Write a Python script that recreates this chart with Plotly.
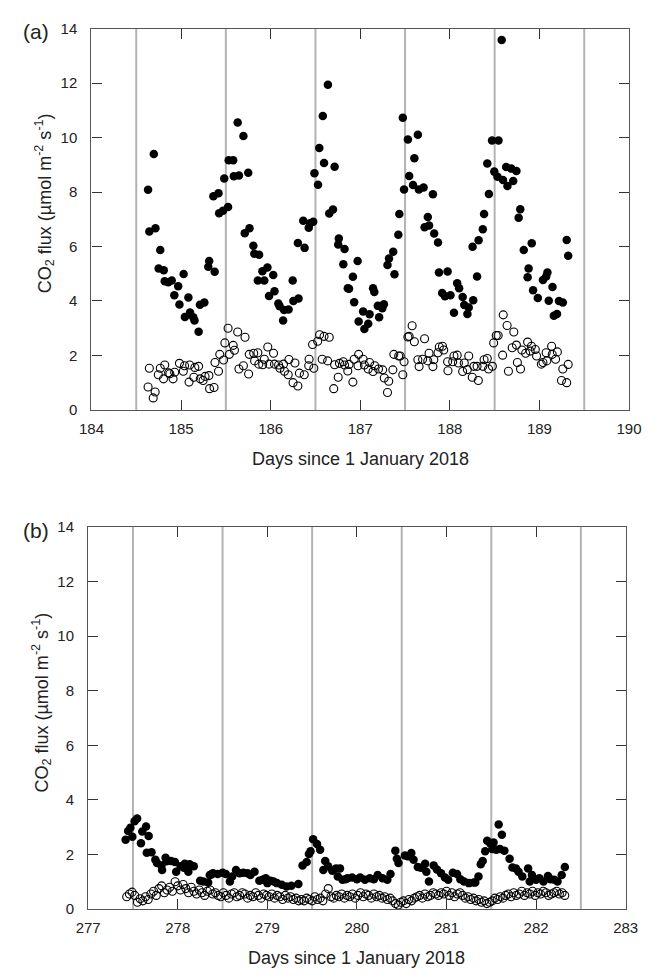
import plotly.graph_objects as go

# ---------------- Panel (a) data ----------------
a_fill_day = [184.632,184.646,184.696,184.714,184.750,184.768,184.807,184.818,184.857,184.896,184.925,184.968,184.982,
185.029,185.043,185.082,185.100,185.136,185.150,185.196,185.211,185.260,185.304,185.314,185.361,185.375,185.418,185.425,
185.468,185.482,185.525,185.532,185.582,185.589,185.632,185.646,185.696,185.711,185.750,185.764,185.807,185.818,185.857,
185.871,185.908,185.929,185.964,185.982,186.029,186.043,186.086,186.100,186.139,186.150,186.200,186.246,186.254,186.304,
186.311,186.364,186.379,186.425,186.439,186.475,186.489,186.529,186.543,186.582,186.596,186.639,186.654,186.696,186.714,
186.754,186.761,186.811,186.825,186.861,186.875,186.918,186.932,186.971,186.982,187.032,187.046,187.089,187.104,187.143,
187.157,187.196,187.211,187.246,187.264,187.304,187.321,187.368,187.382,187.425,187.436,187.475,187.489,187.532,187.546,
187.589,187.604,187.643,187.654,187.707,187.718,187.754,187.768,187.811,187.825,187.868,187.879,187.914,187.946,187.975,
188.007,188.046,188.082,188.104,188.143,188.161,188.196,188.211,188.254,188.261,188.304,188.321,188.368,188.382,188.418,
188.436,188.471,188.496,188.532,188.543,188.579,188.593,188.629,188.643,188.686,188.707,188.743,188.768,188.786,188.825,
188.868,188.879,188.914,188.929,188.982,189.039,189.075,189.089,189.104,189.146,189.161,189.196,189.218,189.261,189.304,189.321]
a_fill_val = [8.08,6.55,9.40,6.67,5.19,5.87,5.13,4.72,4.69,4.75,4.21,4.54,3.87,
4.99,3.41,4.13,3.58,3.40,3.28,2.87,3.86,3.94,5.26,5.47,7.85,5.07,7.96,7.22,
7.31,8.50,7.45,9.17,9.17,8.58,10.55,8.61,10.06,6.49,8.71,6.67,6.03,5.73,4.75,
5.70,5.09,4.75,5.23,4.18,4.95,4.36,3.91,3.81,3.28,3.67,3.69,4.75,4.00,6.13,
4.09,6.95,5.95,6.69,6.85,6.91,8.69,8.27,9.62,10.79,9.07,11.94,7.21,7.36,8.93,
6.07,6.29,5.35,5.91,4.47,4.45,4.89,3.95,5.47,3.25,3.61,2.97,3.16,3.51,4.47,
4.33,3.82,3.40,3.73,3.88,5.32,5.56,5.81,4.98,6.43,7.19,10.73,8.09,9.93,8.59,
8.26,9.24,10.10,8.09,8.17,6.71,7.08,6.77,7.92,6.48,6.15,5.05,4.29,4.17,5.08,
4.21,3.57,4.65,4.47,4.15,3.85,3.52,3.76,5.99,4.03,4.90,6.23,6.63,7.19,9.05,
7.93,9.89,8.75,8.56,9.89,13.58,8.44,8.92,8.22,8.86,8.41,8.77,7.06,7.37,5.87,
4.87,5.19,6.12,4.39,4.11,4.77,4.90,5.05,4.01,4.51,3.46,3.52,4.00,3.94,6.24,5.66]

a_open_day = [184.632,184.646,184.689,184.711,184.746,184.768,184.804,184.818,184.861,184.875,184.911,184.929,184.982,
185.025,185.039,185.089,185.096,185.143,185.154,185.196,185.214,185.246,185.268,185.311,185.318,185.368,185.379,185.418,
185.432,185.475,185.489,185.525,185.539,185.582,185.596,185.632,185.646,185.696,185.714,185.754,185.761,185.811,185.821,
185.857,185.868,185.911,185.929,185.968,185.982,186.032,186.043,186.089,186.104,186.143,186.154,186.196,186.204,186.250,
186.271,186.304,186.321,186.375,186.425,186.429,186.468,186.482,186.525,186.546,186.575,186.596,186.636,186.654,186.704,
186.714,186.754,186.768,186.811,186.825,186.861,186.875,186.918,186.932,186.975,186.982,187.032,187.046,187.089,187.104,
187.143,187.161,187.204,187.250,187.268,187.304,187.318,187.364,187.375,187.429,187.446,187.475,187.489,187.532,187.546,
187.579,187.604,187.643,187.657,187.696,187.718,187.754,187.768,187.811,187.821,187.868,187.882,187.918,187.932,187.975,
187.979,188.032,188.046,188.082,188.096,188.143,188.161,188.196,188.211,188.250,188.268,188.304,188.318,188.368,188.382,
188.418,188.432,188.475,188.489,188.518,188.539,188.589,188.596,188.639,188.654,188.696,188.714,188.743,188.754,188.789,
188.804,188.846,188.868,188.896,188.911,188.954,188.968,189.021,189.039,189.075,189.082,189.136,189.143,189.180,189.200,
189.246,189.261,189.304,189.321]
a_open_val = [0.84,1.53,0.44,0.66,1.29,1.53,1.14,1.65,1.36,1.33,1.14,1.38,1.71,
1.42,1.62,1.02,1.65,1.20,1.56,1.60,1.14,1.08,1.23,1.26,0.78,0.82,1.74,1.42,
2.04,1.83,2.46,3.00,2.04,2.37,2.19,2.86,1.50,1.62,2.67,1.32,2.04,2.08,1.80,
2.10,1.68,1.66,1.86,2.31,1.68,2.08,1.68,1.65,1.53,1.68,1.42,1.29,1.85,1.00,
1.72,0.88,1.35,1.29,1.62,1.86,2.40,1.53,2.52,2.76,1.86,2.70,1.80,2.67,0.78,
1.66,1.20,1.71,1.77,1.65,1.43,1.67,1.02,1.86,1.62,2.04,1.86,1.65,1.50,1.74,
1.41,1.62,1.50,1.47,1.17,0.64,1.05,1.47,2.04,1.98,1.98,1.29,1.77,2.68,2.70,
3.09,2.50,1.84,1.59,1.86,2.61,1.80,2.08,1.59,1.84,2.10,2.31,2.34,2.20,1.77,
1.44,1.77,1.98,2.01,1.72,1.41,1.72,1.48,1.98,1.20,1.60,1.60,1.08,1.60,1.84,
1.89,1.50,1.60,2.46,2.73,2.73,2.01,3.49,3.10,1.42,2.28,2.86,2.38,1.74,1.50,
2.20,2.08,2.49,2.16,2.34,2.22,1.98,1.68,1.74,2.10,1.80,2.34,2.04,1.86,2.13,
1.08,1.50,1.00,1.67]

# ---------------- Panel (b) data ----------------
b_fill_day = [277.418,277.446,277.471,277.493,277.518,277.546,277.589,277.604,277.646,277.654,277.675,277.707,277.750,
277.768,277.818,277.825,277.864,277.875,277.925,277.968,277.982,278.032,278.068,278.079,278.118,278.132,278.179,278.250,
278.286,278.339,278.357,278.375,278.393,278.446,278.500,278.536,278.582,278.607,278.650,278.689,278.732,278.779,278.811,
278.857,278.911,278.946,278.982,279.000,279.036,279.071,279.107,279.161,279.214,279.268,279.346,279.393,279.439,279.464,
279.482,279.511,279.554,279.589,279.625,279.646,279.679,279.725,279.768,279.786,279.811,279.839,279.875,279.893,279.946,
280.000,280.036,280.089,280.143,280.189,280.232,280.286,280.339,280.375,280.429,280.446,280.464,280.536,280.571,280.607,
280.632,280.679,280.714,280.761,280.775,280.804,280.857,280.893,280.939,280.982,281.018,281.071,281.118,281.154,281.196,
281.250,281.304,281.321,281.357,281.382,281.404,281.432,281.454,281.489,281.511,281.525,281.554,281.582,281.596,281.618,
281.646,281.704,281.736,281.775,281.804,281.846,281.911,281.929,281.954,282.000,282.036,282.082,282.132,282.161,282.204,
282.239,282.286,282.321]
b_fill_val = [2.54,2.86,2.98,2.65,3.22,3.32,2.41,2.84,3.02,2.06,2.68,2.08,1.81,
1.69,1.60,1.43,1.88,1.75,1.76,1.72,1.37,1.57,1.51,1.66,1.37,1.64,1.57,1.04,
1.01,0.97,1.25,1.27,1.31,1.28,1.33,1.28,1.01,1.19,1.43,1.31,1.33,1.31,1.25,
1.37,1.04,1.07,1.13,0.95,1.04,1.01,0.95,0.89,0.83,0.85,0.92,1.60,1.72,2.02,
2.12,2.56,2.38,2.17,1.43,1.76,1.57,1.40,1.49,1.19,1.49,1.07,1.09,1.13,1.16,
1.09,1.16,1.07,1.13,1.09,1.25,1.13,1.07,1.28,2.14,1.84,1.69,1.96,1.93,2.05,
1.81,1.54,1.51,1.66,1.37,1.01,1.60,1.45,1.31,1.16,1.07,1.33,1.28,1.09,1.01,
0.95,0.97,0.97,1.19,1.64,1.76,2.12,2.50,2.40,2.20,2.44,2.17,3.10,2.20,2.72,
2.14,1.84,1.52,1.49,1.37,1.19,1.49,1.01,1.25,1.07,1.13,1.01,1.21,1.09,1.07,
1.01,1.25,1.54]

b_open_day = [277.43,277.46,277.49,277.52,277.55,277.58,277.61,277.64,277.67,277.70,277.73,277.76,277.79,277.82,277.85,
277.88,277.91,277.94,277.97,278.00,278.03,278.06,278.09,278.12,278.15,278.18,278.21,278.24,278.27,278.30,278.33,278.36,
278.39,278.42,278.45,278.48,278.51,278.54,278.57,278.60,278.63,278.66,278.69,278.72,278.75,278.78,278.81,278.84,278.87,
278.90,278.93,278.96,278.99,279.02,279.05,279.08,279.11,279.14,279.17,279.20,279.23,279.26,279.29,279.32,279.35,279.38,
279.41,279.44,279.47,279.50,279.53,279.56,279.59,279.62,279.65,279.68,279.71,279.74,279.77,279.80,279.83,279.86,279.89,
279.92,279.95,279.98,280.01,280.04,280.07,280.10,280.13,280.16,280.19,280.22,280.25,280.28,280.31,280.34,280.37,280.40,
280.43,280.46,280.49,280.52,280.55,280.58,280.61,280.64,280.67,280.70,280.73,280.76,280.79,280.82,280.85,280.88,280.91,
280.94,280.97,281.00,281.03,281.06,281.09,281.12,281.15,281.18,281.21,281.24,281.27,281.30,281.33,281.36,281.39,281.42,
281.45,281.48,281.51,281.54,281.57,281.60,281.63,281.66,281.69,281.72,281.75,281.78,281.81,281.84,281.87,281.90,281.93,
281.96,281.99,282.02,282.05,282.08,282.11,282.14,282.17,282.20,282.23,282.26,282.29,282.32]
b_open_val = [0.45,0.55,0.62,0.50,0.25,0.38,0.30,0.45,0.35,0.55,0.65,0.50,0.75,0.85,0.60,
0.70,0.80,0.65,1.00,0.85,0.70,0.90,0.75,0.60,0.80,0.65,0.55,0.70,0.60,0.50,0.65,0.70,
0.55,0.60,0.50,0.45,0.60,0.50,0.40,0.55,0.60,0.45,0.50,0.60,0.55,0.40,0.50,0.45,0.60,
0.50,0.40,0.55,0.50,0.45,0.55,0.40,0.50,0.45,0.35,0.50,0.40,0.45,0.35,0.40,0.30,0.35,
0.30,0.40,0.35,0.30,0.45,0.35,0.40,0.30,0.55,0.75,0.45,0.40,0.50,0.45,0.55,0.40,0.50,
0.45,0.55,0.40,0.50,0.60,0.45,0.55,0.50,0.40,0.55,0.45,0.50,0.40,0.45,0.35,0.40,0.30,
0.20,0.15,0.25,0.30,0.20,0.35,0.30,0.40,0.45,0.50,0.40,0.55,0.45,0.50,0.60,0.55,0.50,
0.60,0.55,0.65,0.50,0.60,0.45,0.55,0.60,0.50,0.40,0.45,0.35,0.40,0.30,0.35,0.25,0.30,
0.20,0.25,0.30,0.40,0.35,0.45,0.40,0.50,0.55,0.45,0.60,0.50,0.55,0.65,0.50,0.60,0.55,
0.65,0.50,0.60,0.55,0.65,0.60,0.50,0.55,0.60,0.65,0.55,0.60,0.50]

a_midday = [184.5, 185.5, 186.5, 187.5, 188.5, 189.5]
b_midday = [277.5, 278.5, 279.5, 280.5, 281.5, 282.5]

W, H = 655, 977
def px(x):
    return x / W
def py(y):
    return 1 - y / H

FONT = "Liberation Sans, Arial, sans-serif"

fig = go.Figure()
fill_style = dict(mode="markers", marker=dict(symbol="circle", size=8.5, color="black",
                                              line=dict(width=0)), showlegend=False, cliponaxis=False)
open_style = dict(mode="markers", marker=dict(symbol="circle-open", size=8, color="black",
                                              line=dict(width=1.1)), showlegend=False, cliponaxis=False)

fig.add_trace(go.Scatter(x=a_open_day, y=a_open_val, xaxis="x", yaxis="y", **open_style))
fig.add_trace(go.Scatter(x=a_fill_day, y=a_fill_val, xaxis="x", yaxis="y", **fill_style))
fig.add_trace(go.Scatter(x=b_open_day, y=b_open_val, xaxis="x2", yaxis="y2", **open_style))
fig.add_trace(go.Scatter(x=b_fill_day, y=b_fill_val, xaxis="x2", yaxis="y2", **fill_style))

shapes = []
for d in a_midday:
    shapes.append(dict(type="line", xref="x", yref="y domain", x0=d, x1=d, y0=0, y1=1,
                       line=dict(color="#b3b3b3", width=2), layer="below"))
for d in b_midday:
    shapes.append(dict(type="line", xref="x2", yref="y2 domain", x0=d, x1=d, y0=0, y1=1,
                       line=dict(color="#b3b3b3", width=2), layer="below"))

tickfont = dict(family=FONT, size=15, color="#222")
common = dict(showgrid=False, zeroline=False, showline=True, linecolor="#555", linewidth=1.3,
              mirror="ticks", ticks="inside", ticklen=10, tickwidth=1.3, tickcolor="#333",
              tickfont=tickfont)

fig.update_layout(
    width=W, height=H,
    margin=dict(l=0, r=0, t=0, b=0),
    paper_bgcolor="white", plot_bgcolor="white",
    shapes=shapes,
    xaxis=dict(domain=[px(81.7), px(641.5)], anchor="y", range=[184, 190], tickvals=[184,185,186,187,188,189,190],
               ticklabelstandoff=5, **common),
    yaxis=dict(domain=[py(408), py(20)], anchor="x", range=[0, 14], tickvals=[0,2,4,6,8,10,12,14],
               ticklabelstandoff=10, **common),
    xaxis2=dict(domain=[px(78.3), px(638)], anchor="y2", range=[277, 283], tickvals=[277,278,279,280,281,282,283],
                ticklabelstandoff=5, **common),
    yaxis2=dict(domain=[py(916), py(527)], anchor="x2", range=[0, 14], tickvals=[0,2,4,6,8,10,12,14],
                ticklabelstandoff=10, **common),
)

font_t = dict(family=FONT, size=18, color="#222")
font_p = dict(family=FONT, size=21, color="#222")
ytitle = "CO<sub>2</sub> flux (µmol m<sup>-2</sup> s<sup>-1</sup>)"
ann = [
    dict(text="(a)", x=px(24), y=py(23), xref="paper", yref="paper", xanchor="center", yanchor="middle",
         showarrow=False, font=font_p),
    dict(text="(b)", x=px(24), y=py(531), xref="paper", yref="paper", xanchor="center", yanchor="middle",
         showarrow=False, font=font_p),
    dict(text="Days since 1 January 2018", x=px(361.5), y=py(458), xref="paper", yref="paper",
         xanchor="center", yanchor="middle", showarrow=False, font=font_t),
    dict(text="Days since 1 January 2018", x=px(358), y=py(966), xref="paper", yref="paper",
         xanchor="center", yanchor="middle", showarrow=False, font=font_t),
    dict(text=ytitle, x=px(33), y=py(198), xref="paper", yref="paper", textangle=-90,
         xanchor="center", yanchor="middle", showarrow=False, font=font_t),
    dict(text=ytitle, x=px(30), y=py(706), xref="paper", yref="paper", textangle=-90,
         xanchor="center", yanchor="middle", showarrow=False, font=font_t),
]
fig.update_layout(annotations=ann)

fig.write_html("out.html")
